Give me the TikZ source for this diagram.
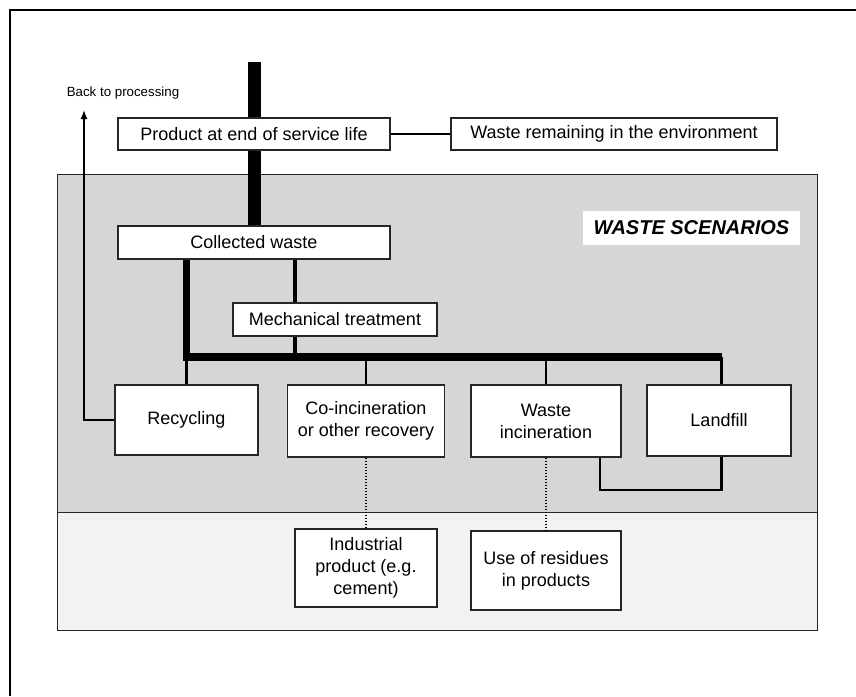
\documentclass[tikz,border=0pt]{standalone}
\usepackage{fontspec}
\setmainfont{Liberation Sans}
\usetikzlibrary{arrows.meta}
\definecolor{zonegrey}{HTML}{D6D6D6}
\definecolor{zonelight}{HTML}{F2F2F2}
\definecolor{boxline}{HTML}{262626}
\begin{document}
\begin{tikzpicture}[x=1pt,y=-1pt,
  box/.style={draw=boxline, line width=1.3pt, fill=white, rectangle, inner sep=0pt,
    align=center, font=\fontsize{18}{22}\selectfont},
  heavy/.style={line width=13pt},
  thickbar/.style={line width=8pt},
  medium/.style={line width=4.5pt},
  thinline/.style={line width=2.2pt},
  dotline/.style={line width=1.8pt, dash pattern=on 1.6pt off 1.4pt},
]
\useasboundingbox (0,0) rectangle (856,696);
% outer frame (cut off by the page)
\draw[line width=2.5pt] (10,696) -- (10,10) -- (856,10);
% zones
\fill[zonegrey] (57,174) rectangle (817,512);
\fill[zonelight] (57,512) rectangle (817,630);
\draw[line width=1pt, boxline] (57,174) rectangle (817,630);
\draw[line width=1pt, boxline] (57,512) -- (817,512);

% label
\node[fill=white, minimum width=217pt, minimum height=34pt, inner sep=0pt,
      font=\fontsize{20}{24}\selectfont\bfseries\itshape] (ws) at (691.5,228) {WASTE SCENARIOS};

% coordinates
\coordinate (top) at (254,62);
\coordinate (barL) at (186.5,357);
\coordinate (barR) at (721.5,357);
\coordinate (mx) at (295,0);
\coordinate (lp) at (600,490);
\coordinate (backtip) at (84,110);

% collected waste and heavy line (under the product box)
\node[box, minimum width=272pt, minimum height=33pt] (coll) at (254,242.5) {Collected waste};
\draw[heavy] (top) -- (coll.north);
\node[box, minimum width=272pt, minimum height=32pt] (prod) at (254,134) {Product at end of service life};
\node[box, minimum width=326pt, minimum height=32pt] (env) at (614,134) {Waste remaining in the environment};
\draw[thinline] (prod.east) -- (env.west);

\node[box, minimum width=204pt, minimum height=33pt] (mech) at (335,319.5) {Mechanical treatment};

\node[box, minimum width=143pt, minimum height=70pt] (rec) at (186.5,420) {Recycling};
\node[box, minimum width=157pt, minimum height=72pt] (coinc) at (366,421) {Co-incineration\\or other recovery};
\node[box, minimum width=150pt, minimum height=72pt] (winc) at (546,421) {Waste\\incineration};
\node[box, minimum width=144pt, minimum height=71pt] (land) at (719,420.5) {Landfill};
\node[box, minimum width=142pt, minimum height=78pt] (ind) at (366,568) {Industrial\\product (e.g.\\cement)};
\node[box, minimum width=150pt, minimum height=79pt] (res) at (546,570.5) {Use of residues\\in products};

\node[font=\fontsize{13.3}{16}\selectfont, inner sep=0pt] (back) at (123,93) {Back to processing};

% flows
\draw[line width=7pt] (coll.south -| barL) -- ([yshift=4pt]barL);
\draw[thickbar, shorten <=-3.5pt] (barL) -- (barR);
\draw[medium] (coll.south -| mx) -- (mech.north -| mx);
\draw[medium] (mech.south -| mx) -- (barL -| mx);
\draw[thinline] (barL) -- (rec.north);
\draw[thinline] (barL -| coinc.north) -- (coinc.north);
\draw[thinline] (barL -| winc.north) -- (winc.north);
\draw[thinline] (barR) -- (land.north -| barR);
\draw[thinline] (winc.south -| lp) -- (lp) -| (land.south -| barR);
\draw[dotline] (coinc.south) -- (ind.north);
\draw[dotline] (winc.south) -- (res.north);
\draw[line width=1.4pt, -{Latex[length=9pt,width=7pt]}] (rec.west) -| (backtip);
\end{tikzpicture}
\end{document}
